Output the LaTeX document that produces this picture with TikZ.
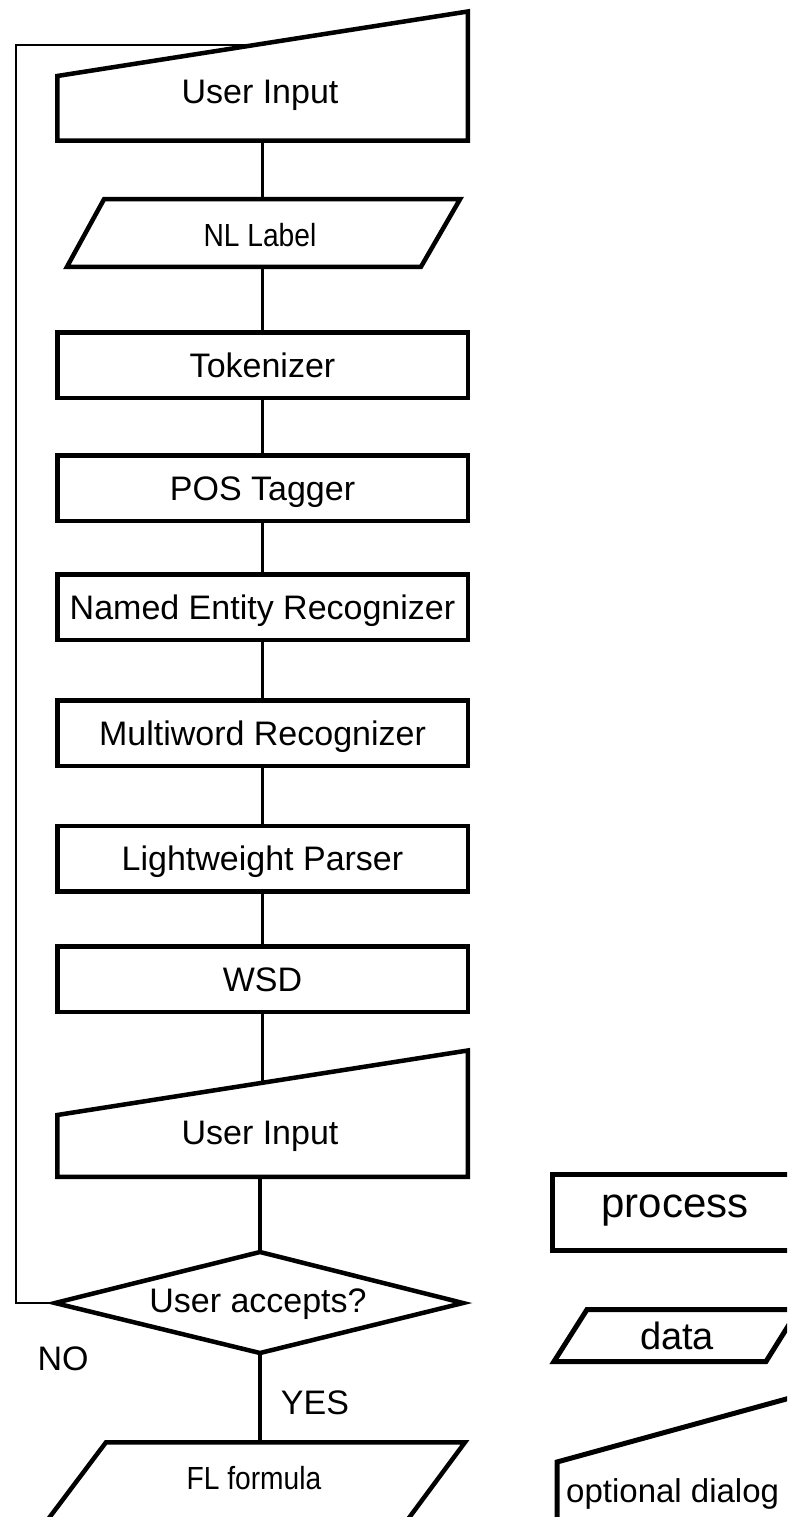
\documentclass[tikz,border=0pt]{standalone}
\usepackage{graphicx}
\usepackage{fontspec}
\setmainfont{Liberation Sans}
\usetikzlibrary{calc}
\newcommand\fmain{\fontsize{34}{40}\selectfont}
\newcommand\fnarrow[1]{{\fontsize{32}{38}\selectfont\scalebox{0.88}[1]{#1}}}
\begin{document}
\begin{tikzpicture}[x=1pt,y=-1pt,
  outline/.style={draw, line width=4.5pt, line join=miter},
  link/.style={line width=3.5pt},
  loopline/.style={line width=2.8pt},
  proc/.style={draw, line width=4.5pt, minimum width=410.5pt, minimum height=65.5pt,
    inner sep=0pt, font=\fmain, text height=24pt, text depth=0pt},
  txt/.style={inner sep=0pt, font=\fmain, text height=24pt, text depth=0pt},
  legendline/.style={draw, line width=5pt, line join=miter}]
\useasboundingbox (0,0) rectangle (787,1517);
\clip (0,0) rectangle (787,1517);

% ---- first User Input (manual input)
\coordinate (ui1tl) at (57.25,76);
\coordinate (ui1tr) at (467.75,11.5);
\draw[outline] (ui1tl) -- (ui1tr) -- (467.75,140.75) -- (57.25,140.75) -- cycle;
\node[txt] (ui1) at (260,92) {User Input};
\coordinate (ui1s) at (262.5,140.75);
\coordinate (fbend) at ($(ui1tl)!0.482!(ui1tr)$);

% ---- NL Label (data)
\draw[outline] (104,199.25) -- (460,199.25) -- (421,266.75) -- (67,266.75) -- cycle;
\node[txt, text height=23pt] (nl) at (260,235) {\fnarrow{NL Label}};
\coordinate (nln) at (262.5,199.25);
\coordinate (nls) at (262.5,266.75);

% ---- process boxes
\node[proc] (tok) at (262.5,365) {Tokenizer};
\node[proc] (pos) at (262.5,488) {POS Tagger};
\node[proc] (ner) at (262.5,607) {Named Entity Recognizer};
\node[proc] (mwr) at (262.5,733) {Multiword Recognizer};
\node[proc] (lwp) at (262.5,858.5) {Lightweight Parser};
\node[proc] (wsd) at (262.5,979) {WSD};

% ---- second User Input
\coordinate (ui2tl) at (57.25,1115);
\coordinate (ui2tr) at (467.75,1050.5);
\draw[outline] (ui2tl) -- (ui2tr) -- (467.75,1176.75) -- (57.25,1176.75) -- cycle;
\node[txt] (ui2) at (260,1132) {User Input};
\coordinate (ui2n) at ($(ui2tl)!0.5!(ui2tr)$);
\coordinate (ui2s) at (260,1176.75);

% ---- decision
\coordinate (decn) at (260,1252);
\coordinate (decw) at (55,1303);
\coordinate (dece) at (463,1303);
\coordinate (decs) at (260,1353);
\draw[outline] (decn) -- (dece) -- (decs) -- (decw) -- cycle;
\node[txt] (dec) at (258,1300) {User accepts?};

% ---- FL formula (data)
\draw[outline] (106,1442.25) -- (465,1442.25) -- (400,1530) -- (40,1530) -- cycle;
\node[txt, text height=24pt] (fl) at (254,1477) {\fnarrow{FL formula}};
\coordinate (fln) at (260,1442.25);

% ---- labels
\node[txt] (no) at (63,1358) {NO};
\node[txt] (yes) at (315,1402) {YES};

% ---- connectors
\draw[link] (ui1s) -- (nln);
\draw[link] (nls) -- (tok.north);
\draw[link] (tok.south) -- (pos.north);
\draw[link] (pos.south) -- (ner.north);
\draw[link] (ner.south) -- (mwr.north);
\draw[link] (mwr.south) -- (lwp.north);
\draw[link] (lwp.south) -- (wsd.north);
\draw[link] (wsd.south) -- (ui2n);
\draw[link] (ui2s) -- (decn);
\draw[link] (decs) -- (fln);
\draw[loopline] (decw) -- (16,1303) |- (fbend);

% ---- legend
\draw[legendline] (840,1174.5) -- (552.5,1174.5) -- (552.5,1250.5) -- (840,1250.5);
\node[inner sep=0pt, font=\fontsize{42}{48}\selectfont, text height=22pt, text depth=0pt] (lproc) at (675,1206) {process};
\draw[legendline] (830,1309.5) -- (587,1309.5) -- (554,1361.5) -- (766,1361.5) -- (830,1259);
\node[inner sep=0pt, font=\fontsize{38}{44}\selectfont, text height=27pt, text depth=0pt] (ldata) at (677,1336) {data};
\draw[legendline] (830,1387) -- (557,1462) -- (557,1540);
\node[inner sep=0pt, font=\fontsize{33}{39}\selectfont, text height=24pt, text depth=0pt, anchor=west] (ldlg) at (566,1490) {optional dialog};
\end{tikzpicture}
\end{document}
